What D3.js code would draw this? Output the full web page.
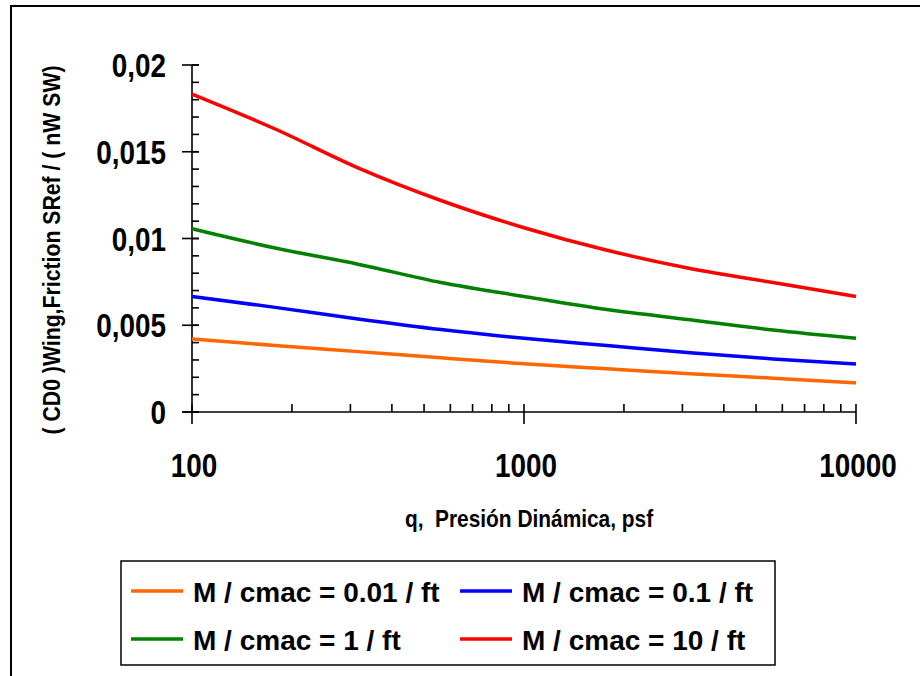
<!DOCTYPE html>
<html>
<head>
<meta charset="utf-8">
<script src="https://cdn.jsdelivr.net/npm/d3@7"></script>
<style>
  body { margin: 0; background: #fff; }
  svg { display: block; }
  text { font-family: "Liberation Sans", Arial, sans-serif; font-weight: bold; fill: #000; white-space: pre; }
</style>
</head>
<body>
<div id="chart"></div>
<script>
// q values (psf), read at quarter-decade steps
const qValues = [100, 178, 316, 562, 1000, 1778, 3162, 5623, 10000];

const seriesNames = ["M / cmac = 0.01 / ft", "M / cmac = 0.1 / ft", "M / cmac = 1 / ft", "M / cmac = 10 / ft"];
const seriesColors = ["#ff6600", "#0000ff", "#008000", "#ff0000"];

const cd01 = [0.00421, 0.00383, 0.00348, 0.00312, 0.00278, 0.00249, 0.00220, 0.00195, 0.00168];
const cd001 = [0.00666, 0.00603, 0.00536, 0.00475, 0.00425, 0.00383, 0.00341, 0.00306, 0.00276];
const cd1 = [0.01056, 0.00945, 0.00852, 0.00746, 0.00666, 0.00591, 0.00532, 0.00473, 0.00425];
const cd10 = [0.01832, 0.01631, 0.01407, 0.01219, 0.01062, 0.00932, 0.00827, 0.00746, 0.00666];
const seriesValues = [cd01, cd001, cd1, cd10];

const yMajorTicks = [0, 0.005, 0.01, 0.015, 0.02];
const xMajorTicks = [100, 1000, 10000];

const xTitle = "q,  Presión Dinámica, psf";
const yTitle = "( CD0 )Wing,Friction SRef / ( nW SW)";

const width = 920, height = 676;
const plot = {left: 192, right: 856, top: 65, bottom: 412};

const svg = d3.select("#chart").append("svg")
  .attr("width", width)
  .attr("height", height);

// text helper: a horizontally squeezed label anchored at (tx, ty)
function label(parent, tx, ty, str, size, squeeze, anchor, rotate) {
  const g = parent.append("g")
    .attr("transform", `translate(${tx},${ty})${rotate ? ` rotate(${rotate})` : ""} scale(${squeeze},1)`);
  g.append("text")
    .attr("text-anchor", anchor || "start")
    .attr("font-size", size)
    .text(str);
  return g;
}

// outer frame (runs off the right and bottom edge)
svg.append("rect")
  .attr("x", 11).attr("y", 6)
  .attr("width", 1000).attr("height", 800)
  .attr("fill", "none").attr("stroke", "#000").attr("stroke-width", 2);

const x = d3.scaleLog().domain([100, 10000]).range([plot.left, plot.right]);
const y = d3.scaleLinear().domain([0, 0.02]).range([plot.bottom, plot.top]);

const fmt = d3.formatLocale({decimal: ",", thousands: ".", grouping: [3], currency: ["", ""]}).format("~g");

// y axis
const yAxis = svg.append("g").attr("stroke", "#000").attr("stroke-width", 1.6);
yAxis.append("line")
  .attr("x1", x(100)).attr("x2", x(100))
  .attr("y1", y(0.02)).attr("y2", y(0));
yAxis.selectAll(".ymin")
  .data(d3.range(0, 21).map(i => i * 0.001))
  .join("line")
    .attr("x1", x(100)).attr("x2", x(100) + 7)
    .attr("y1", d => y(d)).attr("y2", d => y(d));
yAxis.selectAll(".ymaj")
  .data(yMajorTicks)
  .join("line")
    .attr("x1", x(100) - 10).attr("x2", x(100) + 7)
    .attr("y1", d => y(d)).attr("y2", d => y(d));

const yLabels = svg.append("g");
yMajorTicks.forEach(d => label(yLabels, 166, y(d) + 12, fmt(d), 34, 0.82, "end"));

// x axis
const xMinor = [];
[100, 1000].forEach(dec => d3.range(2, 10).forEach(k => xMinor.push(dec * k)));

const xAxis = svg.append("g").attr("stroke", "#000").attr("stroke-width", 1.6);
xAxis.append("line")
  .attr("x1", x(100) - 10).attr("x2", x(10000))
  .attr("y1", y(0)).attr("y2", y(0));
xAxis.selectAll(".xmin")
  .data(xMinor)
  .join("line")
    .attr("x1", d => x(d)).attr("x2", d => x(d))
    .attr("y1", y(0) - 8).attr("y2", y(0));
xAxis.selectAll(".xmaj")
  .data(xMajorTicks)
  .join("line")
    .attr("x1", d => x(d)).attr("x2", d => x(d))
    .attr("y1", y(0) - 8).attr("y2", y(0) + 12);

const xLabels = svg.append("g");
xMajorTicks.forEach(d => label(xLabels, x(d) + 2, 477, String(d), 34, 0.82, "middle"));

// axis titles
label(svg, 529, 527, xTitle, 24, 0.87, "middle");
label(svg, 60, 250, yTitle, 24, 0.885, "middle", -90);

// series
const line = d3.line()
  .x((d, i) => x(qValues[i]))
  .y(d => y(d))
  .curve(d3.curveMonotoneX);

svg.append("g").selectAll("path")
  .data(seriesValues)
  .join("path")
    .attr("d", d => line(d))
    .attr("fill", "none")
    .attr("stroke", (d, i) => seriesColors[i])
    .attr("stroke-width", 3.5)
    .attr("stroke-linejoin", "round");

// legend
const legend = svg.append("g");
legend.append("rect")
  .attr("x", 121).attr("y", 561)
  .attr("width", 654).attr("height", 104)
  .attr("fill", "#fff").attr("stroke", "#000").attr("stroke-width", 1.5);

const legendCols = [131, 460];
const legendRows = [591, 639];

seriesNames.forEach((name, i) => {
  const lx = legendCols[i % 2], ly = legendRows[Math.floor(i / 2)];
  legend.append("line")
    .attr("x1", lx).attr("x2", lx + 52)
    .attr("y1", ly).attr("y2", ly)
    .attr("stroke", seriesColors[i])
    .attr("stroke-width", 3.5);
  label(legend, lx + 62, ly + 11, name, 28, 1, "start");
});
</script>
</body>
</html>
